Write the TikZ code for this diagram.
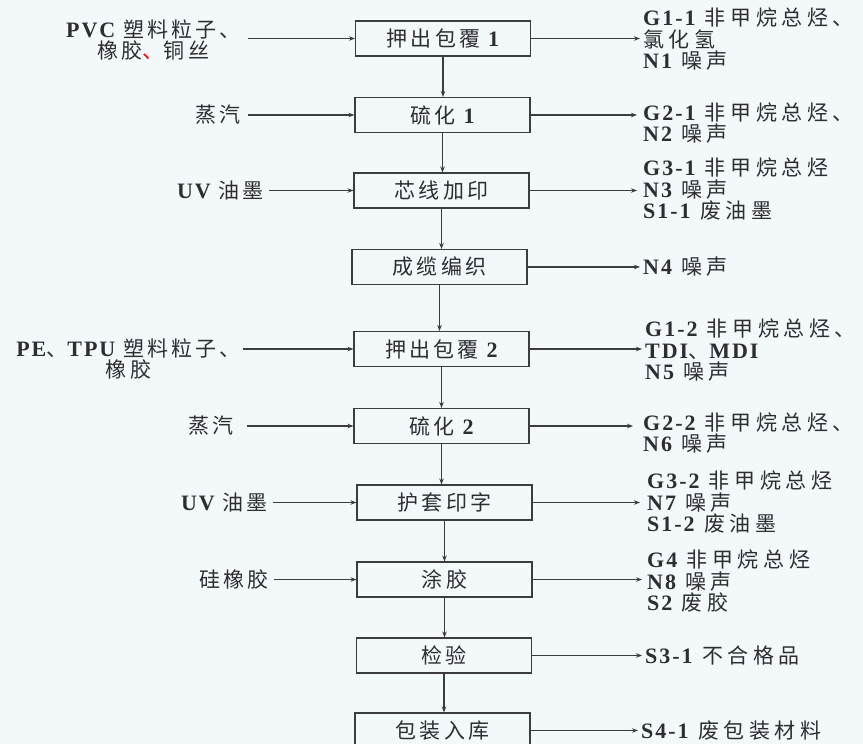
\documentclass[tikz,border=0pt]{standalone}
\usepackage{fontspec}
\setmainfont{Noto Sans CJK SC}[LetterSpace=15]
\newfontfamily\latinf{Liberation Serif}[LetterSpace=9]
\newcommand{\EN}[1]{{\latinf\bfseries\fontsize{22}{22}\selectfont #1}}
\usetikzlibrary{arrows.meta}
\definecolor{bgc}{RGB}{243,249,251}
\definecolor{ln}{RGB}{60,60,64}
\definecolor{tx}{RGB}{45,45,50}
\begin{document}
\begin{tikzpicture}[x=1pt,y=-1pt,
  every node/.style={text=tx,font=\fontsize{21}{21.5}\selectfont},
  proc/.style={draw=ln,line width=1.1pt,minimum width=175pt,minimum height=35pt,inner sep=0pt},
  flow/.style={draw=ln,line width=1.1pt,-{Stealth[length=6pt,width=4.5pt]}},
  lab/.style={inner sep=0pt,align=left,font=\fontsize{21}{21.5}\selectfont\addfontfeature{LetterSpace=22}},
  inl/.style={inner sep=0pt,align=center,anchor=east}]
\fill[bgc] (0,0) rectangle (863,744);
\useasboundingbox (0,0) rectangle (863,744);

% process boxes
\node[proc] (b1) at (443,38.5) {押出包覆 \EN{1}};
\node[proc] (b2) at (442.5,115) {硫化 \EN{1}};
\node[proc] (b3) at (441.5,190.5) {芯线加印};
\node[proc] (b4) at (439.5,267) {成缆编织};
\node[proc] (b5) at (441.5,349) {押出包覆 \EN{2}};
\node[proc] (b6) at (441.5,426) {硫化 \EN{2}};
\node[proc] (b7) at (444.5,502.5) {护套印字};
\node[proc] (b8) at (444.5,579.5) {涂胶};
\node[proc] (b9) at (444,655.5) {检验};
\node[proc] (b10) at (442.5,730.5) {包装入库};

% vertical flow
\foreach \a/\b in {b1/b2,b2/b3,b3/b4,b4/b5,b5/b6,b6/b7,b7/b8,b8/b9,b9/b10}
  \draw[flow] (\a.south) -- (\a.south |- \b.north);

% inputs
\coordinate (s1) at (248,38.5);
\coordinate (s2) at (248,115);
\coordinate (s3) at (269,190.5);
\coordinate (s5) at (243,349);
\coordinate (s6) at (247,426);
\coordinate (s7) at (273,502.5);
\coordinate (s8) at (274,579.5);
\node[inl] (in1) at (241,40) {\EN{PVC} 塑料粒子、\\橡胶{\color{red}、}铜丝};
\node[inl] (in2) at (241,115) {蒸汽};
\node[inl] (in3) at (264,190.5) {\EN{UV} 油墨};
\node[inl] (in5) at (241,359) {\EN{PE}、\EN{TPU} 塑料粒子、\\橡胶};
\node[inl] (in6) at (234,426) {蒸汽};
\node[inl] (in7) at (268,502.5) {\EN{UV} 油墨};
\node[inl] (in8) at (269,579.5) {硅橡胶};
\draw[flow] (s1) -- (b1.west);
\draw[flow] (s2) -- (b2.west);
\draw[flow] (s3) -- (b3.west);
\draw[flow] (s5) -- (b5.west);
\draw[flow] (s6) -- (b6.west);
\draw[flow] (s7) -- (b7.west);
\draw[flow] (s8) -- (b8.west);

% outputs
\coordinate (t1) at (640,38.5);
\coordinate (t2) at (637,115);
\coordinate (t3) at (637,190.5);
\coordinate (t4) at (640,267);
\coordinate (t5) at (642,349);
\coordinate (t6) at (633,426);
\coordinate (t7) at (640,502.5);
\coordinate (t8) at (642,579.5);
\coordinate (t9) at (642,655.5);
\coordinate (t10) at (638,730.5);
\foreach \i in {1,...,10} \draw[flow] (b\i.east) -- (t\i);

\node[lab,anchor=west] (o1) at (643,39) {\EN{G1-1} 非甲烷总烃、\\氯化氢\\\EN{N1} 噪声};
\node[lab,anchor=west] (o2) at (643,123) {\EN{G2-1} 非甲烷总烃、\\\EN{N2} 噪声};
\node[lab,anchor=west] (o3) at (643,189) {\EN{G3-1} 非甲烷总烃\\\EN{N3} 噪声\\\EN{S1-1} 废油墨};
\node[lab,anchor=west] (o4) at (643,267) {\EN{N4} 噪声};
\node[lab,anchor=west] (o5) at (645,350) {\EN{G1-2} 非甲烷总烃、\\\EN{TDI}、\EN{MDI}\\\EN{N5} 噪声};
\node[lab,anchor=west] (o6) at (643,433) {\EN{G2-2} 非甲烷总烃、\\\EN{N6} 噪声};
\node[lab,anchor=west] (o7) at (647,502) {\EN{G3-2} 非甲烷总烃\\\EN{N7} 噪声\\\EN{S1-2} 废油墨};
\node[lab,anchor=west] (o8) at (647,581) {\EN{G4} 非甲烷总烃\\\EN{N8} 噪声\\\EN{S2} 废胶};
\node[lab,anchor=west] (o9) at (645,655.5) {\EN{S3-1} 不合格品};
\node[lab,anchor=west] (o10) at (641,730.5) {\EN{S4-1} 废包装材料};
\end{tikzpicture}
\end{document}
